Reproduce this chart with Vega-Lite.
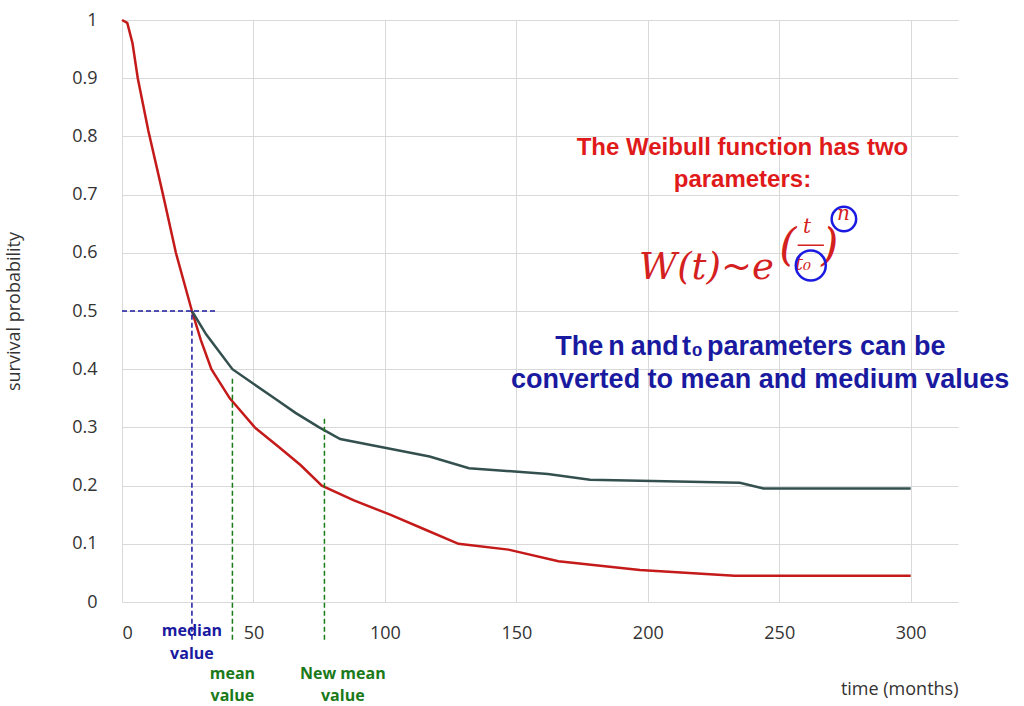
{
  "$schema": "https://vega.github.io/schema/vega-lite/v6.json",
  "width": 836,
  "height": 582,
  "autosize": {"type": "none"},
  "padding": {"left": 122, "top": 20, "right": 66, "bottom": 104},
  "background": "white",
  "config": {
    "view": {"stroke": null},
    "font": "Open Sans",
    "axis": {"labelFont": "Open Sans", "titleFont": "Open Sans", "labelColor": "#333", "titleColor": "#333", "gridColor": "#d9d9d9", "domain": false, "ticks": false, "labelFontSize": 18, "titleFontSize": 18, "titleFontWeight": "normal"}
  },
  "datasets": {
    "red": [
      {"t": 0, "s": 1}, {"t": 2, "s": 0.995}, {"t": 4, "s": 0.96}, {"t": 6, "s": 0.9}, {"t": 10, "s": 0.81},
      {"t": 15.6, "s": 0.7}, {"t": 20.5, "s": 0.6}, {"t": 26.6, "s": 0.5}, {"t": 30, "s": 0.45}, {"t": 34, "s": 0.4},
      {"t": 41, "s": 0.35}, {"t": 50.5, "s": 0.3}, {"t": 60, "s": 0.265}, {"t": 68, "s": 0.235}, {"t": 76, "s": 0.2},
      {"t": 88, "s": 0.175}, {"t": 102, "s": 0.15}, {"t": 115, "s": 0.125}, {"t": 128, "s": 0.1}, {"t": 147, "s": 0.09},
      {"t": 166, "s": 0.07}, {"t": 197, "s": 0.055}, {"t": 233, "s": 0.045}, {"t": 300, "s": 0.045}
    ],
    "teal": [
      {"t": 26.6, "s": 0.5}, {"t": 32, "s": 0.46}, {"t": 37, "s": 0.43}, {"t": 42, "s": 0.4}, {"t": 50, "s": 0.375},
      {"t": 58, "s": 0.35}, {"t": 66, "s": 0.325}, {"t": 75, "s": 0.3}, {"t": 83, "s": 0.28}, {"t": 100, "s": 0.265},
      {"t": 117, "s": 0.25}, {"t": 132, "s": 0.23}, {"t": 162, "s": 0.22}, {"t": 178, "s": 0.21}, {"t": 235, "s": 0.205},
      {"t": 244, "s": 0.195}, {"t": 300, "s": 0.195}
    ],
    "rules": [
      {"x": 26.6, "x2": 26.6, "y": -0.065, "y2": 0.5, "c": "blue"},
      {"x": 0, "x2": 36.5, "y": 0.5, "y2": 0.5, "c": "blue"},
      {"x": 42, "x2": 42, "y": -0.065, "y2": 0.385, "c": "green"},
      {"x": 77, "x2": 77, "y": -0.065, "y2": 0.32, "c": "green"}
    ],
    "labels": [
      {"x": 26.6, "y": -0.05, "txt": "median", "c": "blue"},
      {"x": 26.6, "y": -0.09, "txt": "value", "c": "blue"},
      {"x": 42, "y": -0.123, "txt": "mean", "c": "green"},
      {"x": 42, "y": -0.162, "txt": "value", "c": "green"},
      {"x": 84, "y": -0.123, "txt": "New mean", "c": "green"},
      {"x": 84, "y": -0.162, "txt": "value", "c": "green"}
    ],
    "blueline": [
      {"x": 164.8, "y": 0.438, "txt": "The", "c": "blue", "st": "normal"},
      {"x": 185, "y": 0.438, "txt": "n", "c": "red", "st": "italic"},
      {"x": 193.5, "y": 0.438, "txt": "and", "c": "blue", "st": "normal"},
      {"x": 213, "y": 0.438, "txt": "t₀", "c": "red", "st": "italic"},
      {"x": 222.5, "y": 0.438, "txt": "parameters can be", "c": "blue", "st": "normal"},
      {"x": 148, "y": 0.381, "txt": "converted to mean and medium values", "c": "blue", "st": "normal"}
    ],
    "weibull": [
      {"x": 236, "y": 0.78, "txt": "The Weibull function has two"},
      {"x": 236, "y": 0.725, "txt": "parameters:"}
    ],
    "formula": [
      {"x": 196.7, "y": 0.574, "txt": "W(t)~e", "sz": 37},
      {"x": 250, "y": 0.61, "txt": "(", "sz": 44},
      {"x": 266, "y": 0.61, "txt": ")", "sz": 44},
      {"x": 259, "y": 0.645, "txt": "t", "sz": 20},
      {"x": 256, "y": 0.58, "txt": "t₀", "sz": 20},
      {"x": 272, "y": 0.666, "txt": "n", "sz": 20}
    ],
    "circles": [
      {"x": 274.6, "y": 0.658, "sz": 600},
      {"x": 262, "y": 0.578, "sz": 900}
    ],
    "frac": [{"x": 257, "x2": 267, "y": 0.613}]
  },
  "layer": [
    {
      "data": {"name": "red"},
      "mark": {"type": "line", "color": "#c41a1a", "strokeWidth": 2.5},
      "encoding": {
        "x": {"field": "t", "type": "quantitative", "title": "time (months)", "scale": {"domain": [0, 318], "nice": false}, "axis": {"values": [0, 50, 100, 150, 200, 250, 300], "labelPadding": 22, "titleAnchor": "end", "titlePadding": 38, "titleX": 836}},
        "y": {"field": "s", "type": "quantitative", "title": "survival probability", "scale": {"domain": [0, 1], "nice": false}, "axis": {"values": [0, 0.1, 0.2, 0.3, 0.4, 0.5, 0.6, 0.7, 0.8, 0.9, 1], "format": "~g", "labelPadding": 25, "titlePadding": 48}}
      }
    },
    {
      "data": {"name": "teal"},
      "mark": {"type": "line", "color": "#33504f", "strokeWidth": 2.5},
      "encoding": {"x": {"field": "t", "type": "quantitative"}, "y": {"field": "s", "type": "quantitative"}}
    },
    {
      "data": {"name": "rules"},
      "mark": {"type": "rule", "strokeDash": [5, 3], "strokeWidth": 1.5},
      "encoding": {
        "x": {"field": "x", "type": "quantitative"}, "x2": {"field": "x2"},
        "y": {"field": "y", "type": "quantitative"}, "y2": {"field": "y2"},
        "color": {"field": "c", "type": "nominal", "scale": {"domain": ["blue", "green"], "range": ["#1a1aa0", "#1a7a1a"]}, "legend": null}
      }
    },
    {
      "data": {"name": "labels"},
      "mark": {"type": "text", "fontSize": 16, "fontWeight": "bold", "align": "center"},
      "encoding": {
        "x": {"field": "x", "type": "quantitative"}, "y": {"field": "y", "type": "quantitative"},
        "text": {"field": "txt"},
        "color": {"field": "c", "type": "nominal", "scale": {"domain": ["blue", "green"], "range": ["#1a1aa0", "#1a7a1a"]}, "legend": null}
      }
    },
    {
      "data": {"name": "blueline"},
      "mark": {"type": "text", "fontSize": 27, "fontWeight": "bold", "align": "left", "font": "Liberation Sans"},
      "encoding": {
        "x": {"field": "x", "type": "quantitative"}, "y": {"field": "y", "type": "quantitative"},
        "text": {"field": "txt"},
        "fontStyle": {"field": "st", "type": "nominal", "scale": null},
        "color": {"field": "c", "type": "nominal", "scale": {"domain": ["blue", "red"], "range": ["#1414e6", "#d01010"]}, "legend": null}
      }
    },
    {
      "data": {"name": "weibull"},
      "mark": {"type": "text", "fontSize": 24, "fontWeight": "bold", "align": "center", "color": "#e01a1a", "font": "Liberation Sans"},
      "encoding": {"x": {"field": "x", "type": "quantitative"}, "y": {"field": "y", "type": "quantitative"}, "text": {"field": "txt"}}
    },
    {
      "data": {"name": "formula"},
      "mark": {"type": "text", "align": "left", "color": "#d42020", "font": "DejaVu Serif", "fontStyle": "italic"},
      "encoding": {"x": {"field": "x", "type": "quantitative"}, "y": {"field": "y", "type": "quantitative"}, "text": {"field": "txt"}, "size": {"field": "sz", "type": "quantitative", "scale": null}}
    },
    {
      "data": {"name": "frac"},
      "mark": {"type": "rule", "color": "#d42020", "strokeWidth": 1.5},
      "encoding": {"x": {"field": "x", "type": "quantitative"}, "x2": {"field": "x2"}, "y": {"field": "y", "type": "quantitative"}}
    },
    {
      "data": {"name": "circles"},
      "mark": {"type": "point", "shape": "circle", "color": "#1a1ae0", "strokeWidth": 2.5, "filled": false, "opacity": 1},
      "encoding": {"x": {"field": "x", "type": "quantitative"}, "y": {"field": "y", "type": "quantitative"}, "size": {"field": "sz", "type": "quantitative", "scale": null}}
    }
  ]
}
